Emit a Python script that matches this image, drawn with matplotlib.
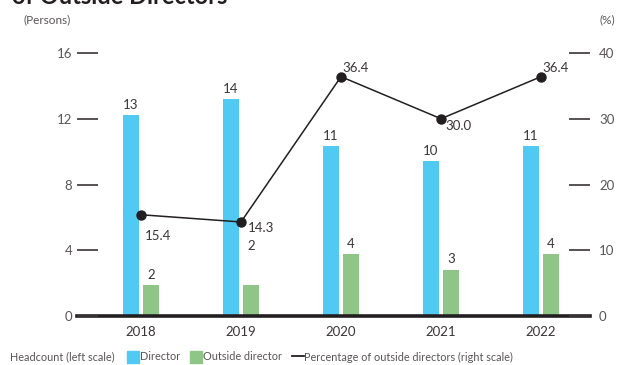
import matplotlib
matplotlib.use("Agg")
import matplotlib.pyplot as plt
from matplotlib.patches import Rectangle
from matplotlib.lines import Line2D

plt.rcParams['font.family'] = ['Lato', 'DejaVu Sans']

# Data
years = ["2018", "2019", "2020", "2021", "2022"]
directors = [13, 14, 11, 10, 11]
outside_directors = [2, 2, 4, 3, 4]
outside_pct = [15.4, 14.3, 36.4, 30.0, 36.4]
left_ticks = [0, 4, 8, 12, 16]
right_ticks = [0, 10, 20, 30, 40]

# Styling
c_dir = "#50C9F3"
c_out = "#8FC587"
c_line = "#231F20"
c_text = "#3A3536"
c_tick = "#5A5556"

fig = plt.figure(figsize=(6.24, 3.65), dpi=100)
rect = [77 / 624, 1 - 316 / 365, (590 - 77) / 624, (316 - 53) / 365]

# Axis carrying the headcount bars
ax = fig.add_axes(rect)
ax.set_xlim(-0.64, 4.49)
ax.set_ylim(0, 17)
ax.set_yticks([])
for s in ["top", "left", "right"]:
    ax.spines[s].set_visible(False)
ax.spines["bottom"].set_linewidth(2.6)
ax.spines["bottom"].set_color(c_line)
ax.spines["bottom"].set_zorder(5)
x = list(range(len(years)))
ax.set_xticks(x)
ax.set_xticklabels(years, fontsize=9.5, color=c_text)
ax.tick_params(axis="x", length=0, pad=7)

w = 0.16
off = 0.102
b1 = ax.bar([i - off for i in x], directors, width=w, color=c_dir, zorder=2)
b2 = ax.bar([i + off for i in x], outside_directors, width=w, color=c_out, zorder=2)

for rect_, v in zip(b1, directors):
    ax.annotate(f"{v}", (rect_.get_x() + rect_.get_width() / 2, v),
                xytext=(0, 3), textcoords="offset points",
                ha="center", va="bottom", fontsize=9.5, color=c_text)
out_offsets = [3, 24, 3, 3, 3]
for rect_, v, dy in zip(b2, outside_directors, out_offsets):
    ax.annotate(f"{v}", (rect_.get_x() + rect_.get_width() / 2, v),
                xytext=(0, dy), textcoords="offset points",
                ha="center", va="bottom", fontsize=9.5, color=c_text)

# Left scale (persons)
axl = ax.twinx()
axl.set_ylim(0, 16)
axl.yaxis.set_ticks_position("left")
axl.yaxis.set_label_position("left")
axl.set_yticks(left_ticks)
axl.set_yticklabels([str(t) for t in left_ticks], fontsize=9.5, color=c_tick)
axl.tick_params(axis="y", direction="in", length=15, width=1.2, color=c_text, pad=3.5)
for s in axl.spines.values():
    s.set_visible(False)

# Right scale (%) with percentage line
axr = ax.twinx()
axr.set_ylim(0, 40)
axr.set_yticks(right_ticks)
axr.set_yticklabels([str(t) for t in right_ticks], fontsize=9.5, color=c_tick)
axr.tick_params(axis="y", direction="in", length=15, width=1.2, color=c_text, pad=6.5)
for s in axr.spines.values():
    s.set_visible(False)
axr.plot(x, outside_pct, color=c_line, lw=1.1, marker="o", markersize=6.5, zorder=4)

pct_offsets = [(12, -15, "center", "center"), (5, -4, "left", "center"),
               (1, 6, "left", "center"), (3, -5, "left", "center"),
               (1, 6, "left", "center")]
for xi, v, (dx, dy, ha, va) in zip(x, outside_pct, pct_offsets):
    axr.annotate(f"{v:.1f}", (xi, v), xytext=(dx, dy), textcoords="offset points",
                 ha=ha, va=va, fontsize=9.5, color=c_text)

# Titles and unit labels
fig.text(12 / 624, 1 - 4 / 365, "of Outside Directors", fontsize=17, fontweight="bold",
         color=c_line, ha="left", va="baseline")
fig.text(23 / 624, 1 - 20 / 365, "(Persons)", fontsize=8.5, color=c_tick, ha="left", va="center")
fig.text(600 / 624, 1 - 20 / 365, "(%)", fontsize=8.5, color=c_tick, ha="left", va="center")

# Legend row
ly = 1 - 357 / 365
fs = 7.8
fig.text(10 / 624, ly, "Headcount (left scale)", fontsize=fs, color=c_tick, ha="left", va="center")
fig.patches.append(Rectangle((127 / 624, 1 - 363 / 365), 12 / 624, 12 / 365,
                             transform=fig.transFigure, color=c_dir))
fig.text(140 / 624, ly, "Director", fontsize=fs, color=c_tick, ha="left", va="center")
fig.patches.append(Rectangle((190 / 624, 1 - 363 / 365), 12 / 624, 12 / 365,
                             transform=fig.transFigure, color=c_out))
fig.text(203 / 624, ly, "Outside director", fontsize=fs, color=c_tick, ha="left", va="center")
fig.lines.append(Line2D([292 / 624, 304 / 624], [1 - 356 / 365, 1 - 356 / 365],
                        transform=fig.transFigure, color=c_line, lw=1.3))
fig.text(304 / 624, ly, "Percentage of outside directors (right scale)", fontsize=fs,
         color=c_tick, ha="left", va="center")

fig.savefig("out.png", dpi=100)
